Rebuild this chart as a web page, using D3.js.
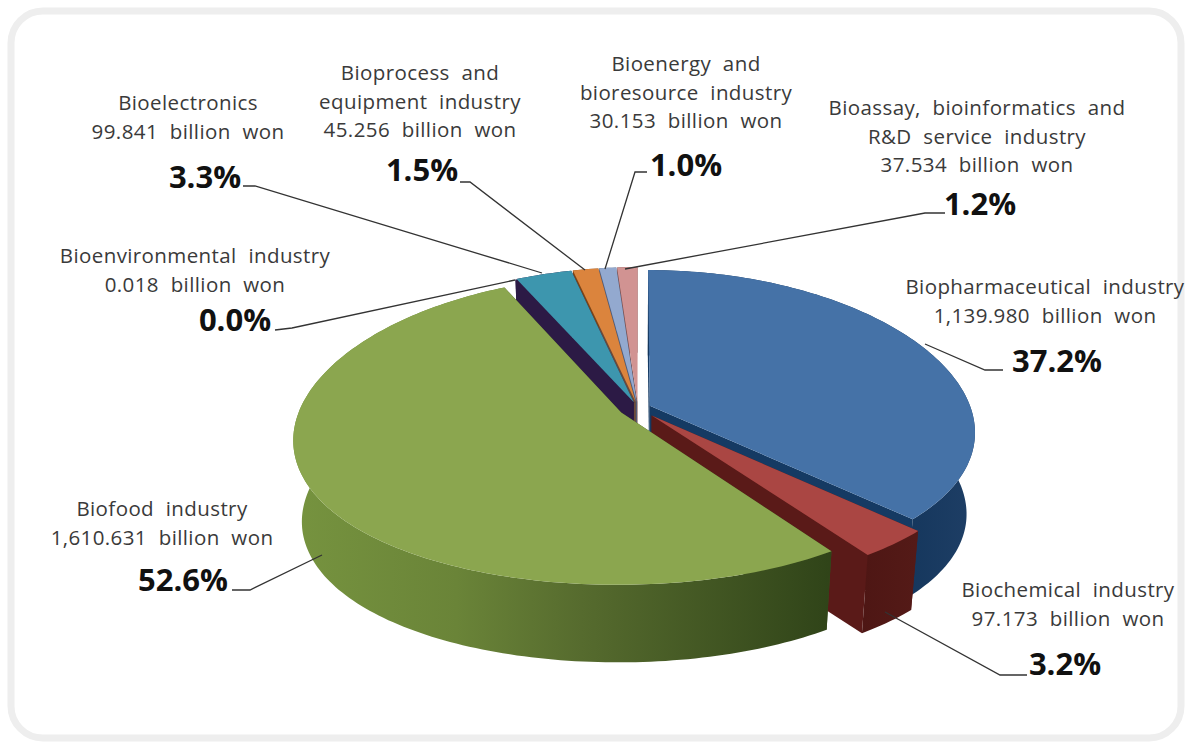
<!DOCTYPE html>
<html><head><meta charset="utf-8">
<script src="https://cdn.jsdelivr.net/npm/d3@7/dist/d3.min.js"></script>
<style>html,body{margin:0;padding:0;background:#fff}svg{display:block}
text{font-family:"Open Sans","Noto Sans",sans-serif}</style></head>
<body><svg id="c" width="1190" height="743"></svg>
<script>
// ---- data ----
const categories = ["Biopharmaceutical industry","Biochemical industry","Biofood industry","Bioenvironmental industry","Bioelectronics","Bioprocess and equipment industry","Bioenergy and bioresource industry","Bioassay, bioinformatics and R&D service industry"];
const amounts = [1139.980,97.173,1610.631,0.018,99.841,45.256,30.153,37.534];
const shares = [37.2,3.2,52.6,0.0,3.3,1.5,1.0,1.2];
const amountLabels = ["1,139.980 billion won","97.173 billion won","1,610.631 billion won","0.018 billion won","99.841 billion won","45.256 billion won","30.153 billion won","37.534 billion won"];
const nameLines = [["Biopharmaceutical industry"],["Biochemical industry"],["Biofood industry"],["Bioenvironmental industry"],["Bioelectronics"],["Bioprocess and","equipment industry"],["Bioenergy and","bioresource industry"],["Bioassay, bioinformatics and","R&D service industry"]];

// ---- style and layout ----
const topColors = ["#4572a7","#aa4643","#8ba64f","#71588f","#3d96ae","#db843d","#93a9cf","#d19392"];
const sideColors = ["#173a63","#4f1614","#3b4f1e","#2c1a45","#2c1a45","#7a4418","#4d5e80","#7a4f4e"];
const cutColors = ["#153a63","#5a1a18","#3b4f1e","#2c1a45","#2c1a45","#6b4a3a","#4d5e80","#7a4f4e"];
const explode = [0.04,0.065,0.06,0.04,0.04,0.04,0.04,0.04];
const paintOrder = [7,6,5,4,3,0,1,2];
const textPos = [[1045,287],[1068,590],[162,509],[195,256],[188,103],[420,73],[686,64],[977,108]];
const pctPos = [[1057,361],[1065,664],[183,580],[235,320],[205,177],[422,170],[686,165],[980,204]];
const leaders = [
 [[1003,370],[985,370],[925,344]],
 [[1027,675],[1000,675],[885,612]],
 [[232,590],[250,590],[322,555]],
 [[275,330],[292,328],[515,280]],
 [[243,186],[255,186],[542,273]],
 [[460,182],[470,182],[585,270]],
 [[647,172],[635,172],[605,269]],
 [[945,213],[925,213],[625,269]]
];
const cx=638, cy=408, X=321, A=151.5, ky=0.114, kx=0.17, D=82, shrink=0.975;

const svg=d3.select("#c");
const defs=svg.append("defs");
function grad(id,x1,x2,stops){
  const g=defs.append("linearGradient").attr("id",id).attr("gradientUnits","userSpaceOnUse")
    .attr("x1",x1).attr("x2",x2).attr("y1",0).attr("y2",0);
  stops.forEach(s=>g.append("stop").attr("offset",s[0]).attr("stop-color",s[1]));
}
grad("gGreen",295,835,[[0,"#76933f"],[0.3,"#6a8438"],[0.53,"#566b2e"],[1,"#2f4318"]]);
grad("gBlue",900,980,[[0,"#14365c"],[1,"#1f3f66"]]);
grad("gRed",830,915,[[0,"#4a1412"],[1,"#541a17"]]);

svg.append("rect").attr("x",11).attr("y",11).attr("width",1170).attr("height",727).attr("rx",32)
  .attr("fill","#fff").attr("stroke","#eeeeee").attr("stroke-width",7);

const pie=d3.pie().sort(null).value((d,i)=>shares[i]).startAngle(0).endAngle(2*Math.PI);
const arcs=pie(amounts);
const line=d3.line();
function project(u,v,low){
  const s=low?shrink:1;
  return [cx+u*X/(1-kx*v)*s, cy+v*A/(1-ky*v)*s+(low?D:0)];
}
function pt(a,r,m,e,low){
  return project(Math.sin(a)*r+Math.sin(m)*e, -Math.cos(a)*r-Math.cos(m)*e, low);
}
const g=svg.append("g");
paintOrder.forEach(i=>{
  const a=arcs[i], m=(a.startAngle+a.endAngle)/2, e=explode[i];
  const n=Math.max(2,Math.ceil((a.endAngle-a.startAngle)/0.02));
  const ang=d3.range(n+1).map(j=>a.startAngle+(a.endAngle-a.startAngle)*j/n);
  const topRim=ang.map(t=>pt(t,1,m,e,false)), lowRim=ang.map(t=>pt(t,1,m,e,true));
  const c0=pt(0,0,m,e,false), c1=pt(0,0,m,e,true);
  const sideFill = i===2?"url(#gGreen)":i===0?"url(#gBlue)":i===1?"url(#gRed)":sideColors[i];
  [0,n].forEach(j=>{
    g.append("path").attr("d",line([c0,topRim[j],lowRim[j],c1])+"Z").attr("fill",cutColors[i]);
  });
  g.append("path").attr("d",line(topRim.concat(lowRim.slice().reverse()))+"Z").attr("fill",sideFill);
  g.append("path").attr("d",line([c0].concat(topRim))+"Z").attr("fill",topColors[i]);
});

svg.append("g").selectAll("path").data(leaders).join("path")
  .attr("d",d=>line(d)).attr("fill","none").attr("stroke","#333").attr("stroke-width",1.3);

const lab=svg.append("g").attr("text-anchor","middle");
categories.forEach((c,i)=>{
  const lines=nameLines[i].concat([amountLabels[i]]);
  lines.forEach((t,j)=>{
    lab.append("text").attr("x",textPos[i][0]).attr("y",textPos[i][1]+j*28.5).attr("dy","0.35em")
      .attr("font-size",20.5).attr("word-spacing",6).attr("letter-spacing",0.4).attr("fill","#3a3a3a").text(t);
  });
  lab.append("text").attr("x",pctPos[i][0]).attr("y",pctPos[i][1]).attr("dy","0.35em")
    .attr("font-size",31).attr("font-weight",700).attr("fill","#111").text(shares[i].toFixed(1)+"%");
});
</script></body></html>
